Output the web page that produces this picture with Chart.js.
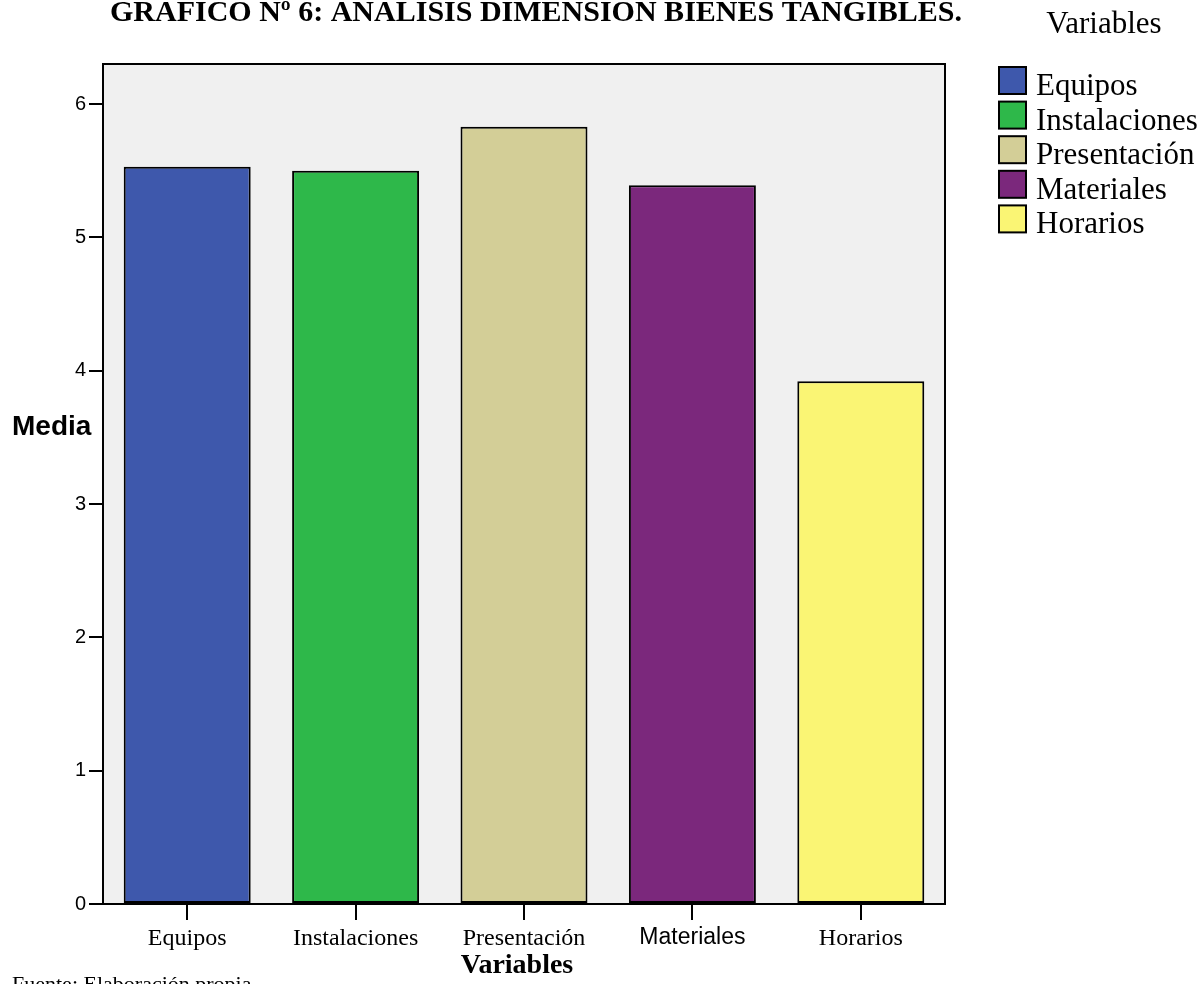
<!DOCTYPE html>
<html>
<head>
<meta charset="utf-8">
<script src="https://cdn.jsdelivr.net/npm/chart.js@4"></script>
<style>
html,body{margin:0;padding:0;background:#fff;}
#wrap{width:1203px;height:984px;position:relative;}
</style>
</head>
<body>
<div id="wrap"><canvas id="c" width="1203" height="984"></canvas></div>
<script>
const categories = ["Equipos", "Instalaciones", "Presentación", "Materiales", "Horarios"];
const means = [5.53, 5.50, 5.83, 5.39, 3.92];
const barColors = ["#3E58AC", "#2EB84A", "#D3CE97", "#7B287C", "#FAF574"];
const yTickValues = [0, 1, 2, 3, 4, 5, 6];
const chartTitle = "GRAFICO Nº 6: ANALISIS DIMENSION BIENES TANGIBLES.";
const yTitle = "Media";
const xTitle = "Variables";
const legendTitle = "Variables";
const sourceNote = "Fuente: Elaboración propia";

const SERIF = '"Liberation Serif", "Times New Roman", serif';
const SANS = '"Liberation Sans", Arial, sans-serif';

const decor = {
  id: 'decor',
  beforeDraw(chart) {
    const {ctx, chartArea: a} = chart;
    ctx.save();
    ctx.fillStyle = '#F0F0F0';
    ctx.fillRect(a.left, a.top, a.right - a.left, a.bottom - a.top);
    ctx.restore();
  },
  afterDraw(chart) {
    const {ctx, chartArea: a} = chart;
    ctx.save();
    // frame
    ctx.strokeStyle = '#000';
    ctx.lineWidth = 2;
    ctx.strokeRect(a.left, a.top, a.right - a.left, a.bottom - a.top);
    ctx.fillStyle = '#000';
    // title
    ctx.font = 'bold 30px ' + SERIF;
    ctx.textAlign = 'center';
    ctx.textBaseline = 'alphabetic';
    ctx.fillText(chartTitle, 536, 21);
    // y title
    ctx.font = 'bold 28px ' + SANS;
    ctx.textAlign = 'left';
    ctx.fillText(yTitle, 12, 435);
    // x title
    ctx.font = 'bold 28px ' + SERIF;
    ctx.textAlign = 'center';
    ctx.fillText(xTitle, 517, 973);
    // source
    ctx.font = '22px ' + SERIF;
    ctx.textAlign = 'left';
    ctx.fillText(sourceNote, 12, 991);
    // legend
    ctx.font = '31px ' + SERIF;
    ctx.textAlign = 'center';
    ctx.fillText(legendTitle, 1104, 33);
    ctx.font = '31px ' + SERIF;
    ctx.textAlign = 'left';
    categories.forEach((name, i) => {
      const top = 67 + i * 34.6;
      ctx.fillStyle = barColors[i];
      ctx.fillRect(999, top, 27, 27);
      ctx.strokeStyle = '#000';
      ctx.lineWidth = 2;
      ctx.strokeRect(999, top, 27, 27);
      ctx.fillStyle = '#000';
      ctx.fillText(name, 1036, top + 28);
    });
    ctx.restore();
  }
};

new Chart(document.getElementById('c'), {
  type: 'bar',
  data: {
    labels: categories,
    datasets: [{
      data: means,
      backgroundColor: barColors,
      borderColor: '#000',
      borderWidth: 2,
      borderSkipped: false,
      categoryPercentage: 1.0,
      barPercentage: 0.754
    }]
  },
  options: {
    responsive: false,
    animation: false,
    devicePixelRatio: 1,
    layout: { padding: { top: 64, right: 258, left: 0, bottom: 0 } },
    plugins: { legend: { display: false }, tooltip: { enabled: false }, title: { display: false } },
    scales: {
      x: {
        type: 'category',
        offset: true,
        grid: { display: true, drawOnChartArea: false, drawTicks: true, tickLength: 16, offset: false, color: '#000', lineWidth: 2 },
        border: { display: true, color: '#000', width: 2 },
        ticks: {
          color: '#000',
          padding: 4,
          maxRotation: 0,
          autoSkip: false,
          font: (ctx) => (categories[ctx.index] === 'Materiales')
            ? { family: SANS, size: 23 }
            : { family: SERIF, size: 24 }
        },
        afterFit(scale) { scale.height = 80; }
      },
      y: {
        min: 0,
        max: 6.3,
        grid: { display: true, drawOnChartArea: false, drawTicks: true, tickLength: 14, color: '#000', lineWidth: 2 },
        border: { display: true, color: '#000', width: 2 },
        ticks: { stepSize: 1, color: '#000', padding: 3, font: { family: SANS, size: 20 } },
        afterBuildTicks(scale) {
          scale.ticks = yTickValues.map(v => ({ value: v }));
        },
        afterFit(scale) { scale.width = 103; }
      }
    }
  },
  plugins: [decor]
});
</script>
</body>
</html>
